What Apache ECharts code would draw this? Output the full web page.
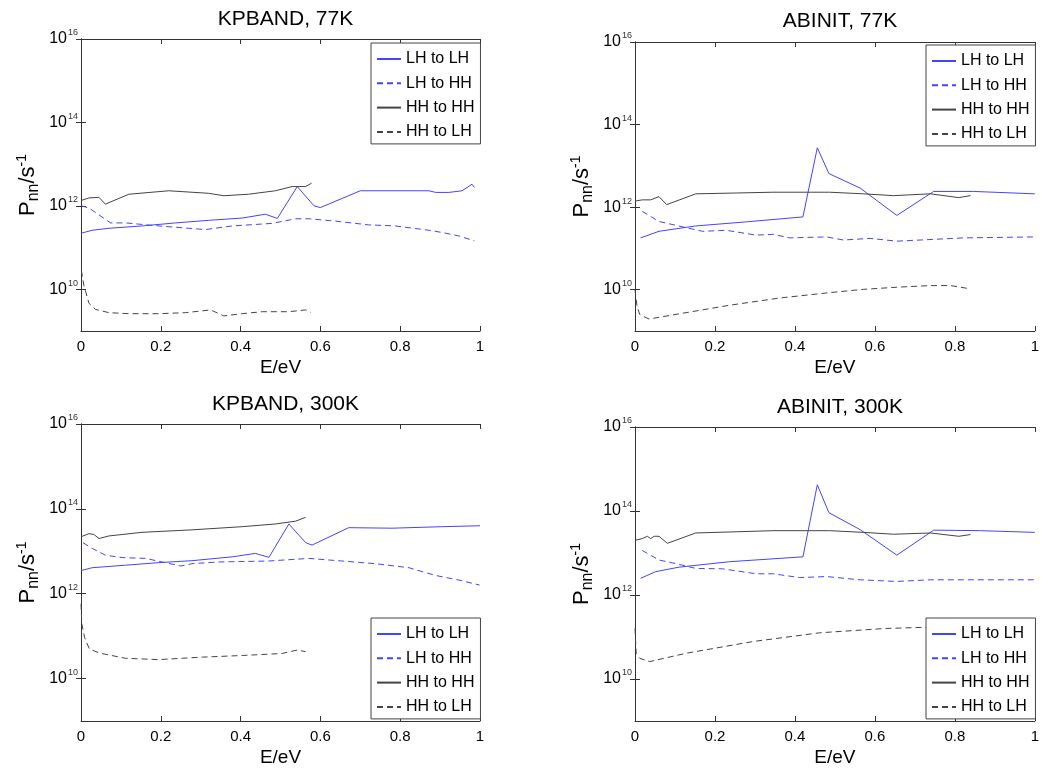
<!DOCTYPE html>
<html>
<head>
<meta charset="utf-8">
<script src="https://cdn.jsdelivr.net/npm/echarts@6/dist/echarts.min.js"></script>
<style>
  html, body { margin: 0; padding: 0; background: #fff; }
  #chart { width: 1042px; height: 772px; }
</style>
</head>
<body>
<div id="chart"></div>
<script>
// 子图标题 / 图例
const panelTitles = ['KPBAND, 77K', 'ABINIT, 77K', 'KPBAND, 300K', 'ABINIT, 300K']
const seriesNames = ['LH to LH', 'LH to HH', 'HH to HH', 'HH to LH']
const yTickValues = [1e10, 1e12, 1e14, 1e16]

// KPBAND, 77K  [E/eV, P/s^-1]
const kp77LhLh = [[0, 2.2e11], [0.028, 2.6e11], [0.07, 2.9e11], [0.153, 3.3e11], [0.237, 3.9e11], [0.32, 4.5e11], [0.404, 5.1e11], [0.462, 6.3e11], [0.492, 5.0e11], [0.542, 2.9e12], [0.584, 1.0e12], [0.6, 9.1e11], [0.7, 2.3e12], [0.872, 2.3e12], [0.889, 2.1e12], [0.922, 2.1e12], [0.955, 2.3e12], [0.98, 3.3e12], [0.986, 2.75e12]]
const kp77LhHh = [[0.001, 1.0e12], [0.02, 8.9e11], [0.074, 3.9e11], [0.112, 3.9e11], [0.195, 3.3e11], [0.312, 2.7e11], [0.379, 3.3e11], [0.479, 3.8e11], [0.538, 4.9e11], [0.571, 4.9e11], [0.638, 4.3e11], [0.721, 3.5e11], [0.788, 3.3e11], [0.872, 2.6e11], [0.905, 2.3e11], [0.947, 1.9e11], [0.986, 1.45e11]]
const kp77HhHh = [[0.001, 1.35e12], [0.02, 1.55e12], [0.045, 1.6e12], [0.061, 1.1e12], [0.12, 1.9e12], [0.22, 2.3e12], [0.32, 2.0e12], [0.358, 1.75e12], [0.42, 1.9e12], [0.487, 2.3e12], [0.529, 2.9e12], [0.563, 2.9e12], [0.578, 3.5e12]]
const kp77HhLh = [[0.001, 2.8e10], [0.007, 1.26e10], [0.02, 4.6e9], [0.036, 3.3e9], [0.07, 2.75e9], [0.12, 2.6e9], [0.195, 2.6e9], [0.262, 2.75e9], [0.325, 3.2e9], [0.358, 2.3e9], [0.404, 2.6e9], [0.454, 2.9e9], [0.521, 2.9e9], [0.563, 3.2e9], [0.576, 2.8e9]]

// ABINIT, 77K
const ab77LhLh = [[0.014, 1.8e11], [0.06, 2.6e11], [0.152, 3.5e11], [0.278, 4.4e11], [0.42, 5.8e11], [0.456, 2.75e13], [0.485, 6.5e12], [0.563, 2.9e12], [0.655, 6.3e11], [0.747, 2.4e12], [0.847, 2.4e12], [1.0, 2.1e12]]
const ab77LhHh = [[0.018, 7.9e11], [0.06, 4.5e11], [0.127, 3.2e11], [0.169, 2.6e11], [0.228, 2.75e11], [0.303, 2.1e11], [0.345, 2.2e11], [0.387, 1.8e11], [0.479, 1.9e11], [0.521, 1.6e11], [0.588, 1.75e11], [0.655, 1.5e11], [0.822, 1.8e11], [1.0, 1.9e11]]
const ab77HhHh = [[0, 1.4e12], [0.018, 1.5e12], [0.039, 1.5e12], [0.06, 1.8e12], [0.079, 1.15e12], [0.152, 2.1e12], [0.253, 2.2e12], [0.345, 2.3e12], [0.487, 2.3e12], [0.571, 2.1e12], [0.647, 1.9e12], [0.739, 2.1e12], [0.81, 1.7e12], [0.839, 1.9e12]]
const ab77HhLh = [[0, 1.0e10], [0.005, 4.0e9], [0.012, 2.5e9], [0.035, 1.95e9], [0.11, 2.6e9], [0.236, 4.2e9], [0.362, 6.3e9], [0.487, 8.5e9], [0.571, 1.02e10], [0.655, 1.15e10], [0.739, 1.26e10], [0.789, 1.26e10], [0.839, 1.05e10]]

// KPBAND, 300K
const kp300LhLh = [[0, 3.5e12], [0.028, 4.1e12], [0.112, 4.7e12], [0.195, 5.4e12], [0.278, 6.0e12], [0.379, 7.4e12], [0.437, 8.9e12], [0.471, 7.2e12], [0.521, 4.4e13], [0.563, 1.6e13], [0.579, 1.4e13], [0.671, 3.6e13], [0.78, 3.5e13], [0.905, 3.8e13], [1.0, 4.0e13]]
const kp300LhHh = [[0.005, 1.6e13], [0.028, 1.17e13], [0.061, 8.1e12], [0.103, 7.1e12], [0.162, 6.8e12], [0.203, 5.6e12], [0.25, 4.5e12], [0.278, 5.1e12], [0.345, 5.6e12], [0.471, 5.9e12], [0.571, 6.8e12], [0.654, 5.9e12], [0.738, 5.1e12], [0.822, 4.1e12], [0.888, 2.7e12], [0.947, 2.1e12], [0.999, 1.6e12]]
const kp300HhHh = [[0, 2.2e13], [0.02, 2.6e13], [0.032, 2.5e13], [0.045, 2.0e13], [0.07, 2.3e13], [0.153, 2.8e13], [0.278, 3.2e13], [0.404, 3.8e13], [0.487, 4.4e13], [0.537, 5.1e13], [0.563, 6.3e13]]
const kp300HhLh = [[0, 5.8e11], [0.002, 1.95e11], [0.009, 9.3e10], [0.021, 5.0e10], [0.046, 4.0e10], [0.112, 3.0e10], [0.195, 2.8e10], [0.304, 3.2e10], [0.404, 3.5e10], [0.504, 3.9e10], [0.542, 4.7e10], [0.563, 4.3e10]]

// ABINIT, 300K
const ab300LhLh = [[0.014, 2.5e12], [0.052, 3.6e12], [0.11, 4.6e12], [0.236, 6.2e12], [0.42, 8.1e12], [0.456, 4.2e14], [0.485, 9.1e13], [0.563, 3.6e13], [0.655, 8.9e12], [0.747, 3.5e13], [0.864, 3.4e13], [1.0, 3.1e13]]
const ab300LhHh = [[0.018, 1.15e13], [0.06, 6.8e12], [0.102, 5.6e12], [0.152, 4.3e12], [0.219, 4.2e12], [0.303, 3.2e12], [0.345, 3.2e12], [0.412, 2.6e12], [0.479, 2.75e12], [0.563, 2.3e12], [0.655, 2.1e12], [0.739, 2.3e12], [1.0, 2.3e12]]
const ab300HhHh = [[0, 2.0e13], [0.018, 2.2e13], [0.031, 2.5e13], [0.039, 2.2e13], [0.048, 2.5e13], [0.06, 2.5e13], [0.081, 1.7e13], [0.152, 3.0e13], [0.253, 3.2e13], [0.345, 3.4e13], [0.487, 3.4e13], [0.571, 3.1e13], [0.647, 2.8e13], [0.739, 3.0e13], [0.81, 2.5e13], [0.839, 2.75e13]]
const ab300HhLh = [[0, 1.6e11], [0.003, 4.1e10], [0.012, 3.1e10], [0.037, 2.6e10], [0.128, 4.1e10], [0.295, 7.8e10], [0.462, 1.26e11], [0.628, 1.6e11], [0.726, 1.7e11], [0.78, 1.8e11], [0.84, 1.66e11]]

const panelData = [
  [kp77LhLh, kp77LhHh, kp77HhHh, kp77HhLh],
  [ab77LhLh, ab77LhHh, ab77HhHh, ab77HhLh],
  [kp300LhLh, kp300LhHh, kp300HhHh, kp300HhLh],
  [ab300LhLh, ab300LhHh, ab300HhHh, ab300HhLh]
]

// 布局
const grids = [
  { left: 81, top: 39, width: 399, height: 292 },
  { left: 635, top: 42, width: 400, height: 289 },
  { left: 81, top: 424, width: 399, height: 297 },
  { left: 635, top: 427, width: 400, height: 294 }
]
const titleTops = [4, 6, 389, 392]
const legendPos = [[371, 43], [926, 45], [371, 618], [926, 618]]

const blue = '#4444ff'
const black = '#444'
const lineStyles = [
  { color: blue, width: 1, type: 'solid' },
  { color: blue, width: 1, type: [6, 4] },
  { color: black, width: 1, type: 'solid' },
  { color: black, width: 1, type: [6, 4] }
]

const font = 'Liberation Sans'
const frameLine = { lineStyle: { color: '#333', width: 1 } }

let xAxis = []
let yAxis = []
let series = []
let title = []
let legend = []

grids.forEach((g, i) => {
  // 下/上 x轴
  xAxis.push({
    gridIndex: i, type: 'value', min: 0, max: 1, interval: 0.2,
    axisLine: frameLine,
    axisTick: { inside: true, length: 5, lineStyle: { color: '#333' } },
    axisLabel: { fontSize: 15, color: '#000', margin: 8, fontFamily: font },
    splitLine: { show: false },
    name: 'E/eV', nameLocation: 'middle', nameGap: 27,
    nameTextStyle: { fontSize: 19, color: '#000', fontFamily: font }
  })
  xAxis.push({
    gridIndex: i, type: 'value', position: 'top', min: 0, max: 1, interval: 0.2,
    axisLine: frameLine,
    axisTick: { inside: true, length: 5, lineStyle: { color: '#333' } },
    axisLabel: { show: false },
    splitLine: { show: false }
  })
  // 左/右 y轴 (对数)
  yAxis.push({
    gridIndex: i, type: 'log', logBase: 10, min: 1e9, max: 1e16,
    axisLine: frameLine,
    axisTick: { inside: true, length: 5, customValues: yTickValues, lineStyle: { color: '#333' } },
    axisLabel: {
      customValues: yTickValues,
      margin: 3,
      fontSize: 16, color: '#000', fontFamily: font,
      formatter: v => '10{sup|' + Math.round(Math.log10(v)) + '}',
      rich: { sup: { fontSize: 9, color: '#333', fontFamily: font, padding: [0, 0, 12, 1] } }
    },
    splitLine: { show: false },
    name: 'P{sub|nn}/s{sup|-1}', nameLocation: 'middle', nameGap: 39, nameRotate: 90,
    nameTextStyle: {
      fontSize: 22, color: '#000', fontFamily: font,
      rich: {
        sub: { fontSize: 16, color: '#000', fontFamily: font, padding: [12, 0, 0, 0] },
        sup: { fontSize: 14, color: '#000', fontFamily: font, padding: [0, 0, 12, 0] }
      }
    }
  })
  yAxis.push({
    gridIndex: i, type: 'log', logBase: 10, min: 1e9, max: 1e16, position: 'right',
    axisLine: frameLine,
    axisTick: { inside: true, length: 5, customValues: yTickValues, lineStyle: { color: '#333' } },
    axisLabel: { show: false },
    splitLine: { show: false }
  })

  title.push({
    text: panelTitles[i],
    left: g.left + g.width / 2, top: titleTops[i], textAlign: 'center',
    textStyle: { fontSize: 21, fontWeight: 'normal', color: '#000', fontFamily: font }
  })

  legend.push({
    data: seriesNames, orient: 'vertical',
    left: legendPos[i][0], top: legendPos[i][1],
    itemWidth: 24, itemHeight: 14, itemGap: 8.3,
    padding: [8, 6, 4, 5],
    borderColor: '#444', borderWidth: 1, backgroundColor: '#fff',
    itemStyle: { opacity: 0 },
    textStyle: { fontSize: 16, lineHeight: 16, color: '#000', fontFamily: font },
    selectedMode: false
  })

  panelData[i].forEach((d, k) => {
    series.push({
      name: seriesNames[k], type: 'line',
      xAxisIndex: 2 * i, yAxisIndex: 2 * i,
      data: d, symbol: 'none', showSymbol: false,
      lineStyle: lineStyles[k], itemStyle: { color: lineStyles[k].color },
      silent: true
    })
  })
})

let chart = echarts.init(document.getElementById('chart'), null, { renderer: 'canvas' })
chart.setOption({
  animation: false,
  backgroundColor: '#fff',
  textStyle: { fontFamily: font },
  title: title,
  legend: legend,
  grid: grids,
  xAxis: xAxis,
  yAxis: yAxis,
  series: series
})
</script>
</body>
</html>
